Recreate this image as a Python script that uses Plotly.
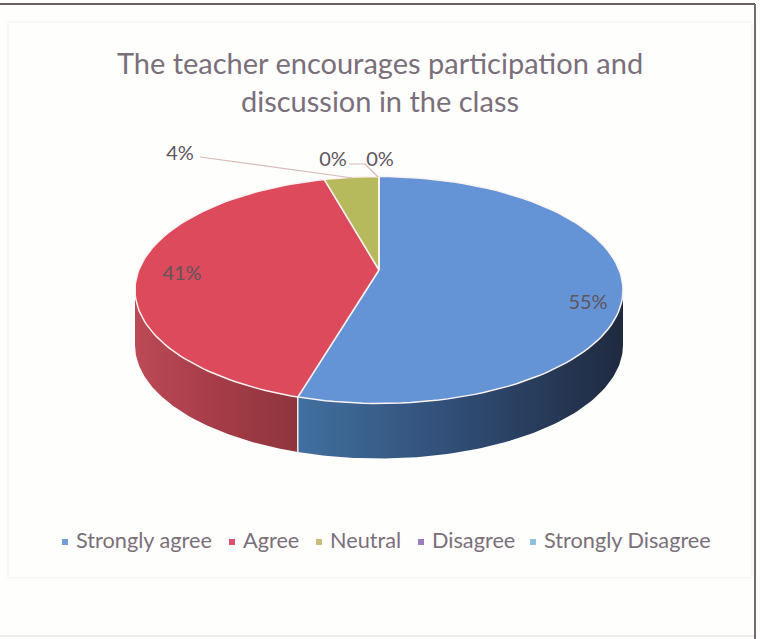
"""3D-look pie: teacher encourages participation (survey result)."""

import numpy as np
import plotly.graph_objects as go

# ─── Data ─────────────────────────────────────────────────────────────────────

categories = ["Strongly agree", "Agree", "Neutral", "Disagree", "Strongly Disagree"]
# they round to the printed 55 / 41 / 4 / 0 / 0
shares = [55.4, 41.0, 3.6, 0, 0]
share_labels = ["55%", "41%", "4%", "0%", "0%"]

top_colors = ["#6494d6", "#dc4a5c", "#b7ba5c", "#8064a2", "#4bacc6"]
legend_colors = ["#6f9fd8", "#e0506a", "#c9bd78", "#9a7cc0", "#8fc0de"]
side_gradients = {
    0: ["#41709f", "#304c74", "#1f2a40"],
    1: ["#bb4a56", "#a53c48", "#8f353d"],
}

# ─── Layout constants (pixels, the axes map 1:1 to the page) ──────────────────

W, H = 760, 639
CX, CY, RX, RY = 379, 290, 244, 113.5
APEX_Y = 270
DEPTH = 55
TEXT = "#7a6f7a"


def arc(start, end, drop=0.0):
    """Points on the rim between two angles, clockwise from 12 o'clock."""
    t = np.radians(np.linspace(start, end, 90))
    return CX + RX * np.sin(t), CY - RY * np.cos(t) + drop


fig = go.Figure()

# turn the shares into rim angles
edges = np.cumsum([0] + shares) * 360 / sum(shares)

# ─── Side wall (only the part of the rim facing the viewer) ───────────────────

for i, stops in side_gradients.items():
    start, end = max(edges[i], 90), min(edges[i + 1], 270)
    x_top, y_top = arc(start, end)
    x_bot, y_bot = arc(end, start, DEPTH)
    fig.add_trace(go.Scatter(
        x=np.r_[x_top, x_bot, x_top[0]], y=np.r_[y_top, y_bot, y_top[0]],
        mode="lines", line=dict(width=0), fill="toself",
        fillgradient=dict(
            type="horizontal",
            colorscale=[[k / (len(stops) - 1), c] for k, c in enumerate(stops)],
        ),
        hoverinfo="skip",
    ))

# seam between the two visible walls
seam_x, seam_y = arc(edges[1], edges[1])
fig.add_trace(go.Scatter(
    x=[seam_x[0], seam_x[0]], y=[seam_y[0], seam_y[0] + DEPTH],
    mode="lines", line=dict(color="#f4ecec", width=1.5), hoverinfo="skip",
))

# ─── Top face ─────────────────────────────────────────────────────────────────

for i, name in enumerate(categories):
    x_rim, y_rim = arc(edges[i], edges[i + 1])
    fig.add_trace(go.Scatter(
        x=np.r_[CX, x_rim, CX], y=np.r_[APEX_Y, y_rim, APEX_Y],
        mode="lines", line=dict(color="#fbf3f1", width=1.5),
        fill="toself", fillcolor=top_colors[i], name=name, hoverinfo="name",
    ))

# ─── Labels and leader lines ──────────────────────────────────────────────────

label_x = [588, 182, 180, 333, 380]
label_y = [304, 275, 155, 161, 161]
fig.add_trace(go.Scatter(
    x=label_x, y=label_y, mode="text", text=share_labels,
    textfont=dict(family="Lato", size=20, color="#5f555d"), hoverinfo="skip",
))

leader_x = [200, 353, None, 349, 365, 378]
leader_y = [157, 178, None, 164, 164, 177]
fig.add_trace(go.Scatter(
    x=leader_x, y=leader_y, mode="lines",
    line=dict(color="#d9b8b8", width=1.2), hoverinfo="skip",
))

# ─── Legend, laid out by hand as in the original ──────────────────────────────

legend_x = [65, 232, 319, 421, 533]
fig.add_trace(go.Scatter(
    x=legend_x, y=[542] * 5, mode="markers",
    marker=dict(symbol="square", size=6, color=legend_colors), hoverinfo="skip",
))
fig.add_trace(go.Scatter(
    x=[x + 11 for x in legend_x], y=[543] * 5, mode="text", text=categories,
    textposition="middle right",
    textfont=dict(family="Lato", size=21.7, color=TEXT), hoverinfo="skip",
))

# ─── Layout ───────────────────────────────────────────────────────────────────

fig.update_layout(
    width=W, height=H,
    margin=dict(l=0, r=0, t=0, b=0),
    showlegend=False,
    paper_bgcolor="#fefefd", plot_bgcolor="#fefefd",
    xaxis=dict(range=[0, W], visible=False, fixedrange=True),
    yaxis=dict(range=[H, 0], visible=False, fixedrange=True),
    title=dict(
        text="The teacher encourages participation and<br>discussion in the class",
        x=380 / W, xanchor="center", y=1 - 74 / H, yanchor="middle",
        font=dict(family="Lato", size=29, color=TEXT),
    ),
    shapes=[
        # faint chart-area border
        dict(type="rect", x0=8, y0=22, x1=752, y1=578,
             line=dict(color="#f2f1f0", width=1)),
        # scanned frame: dark top and right, almost nothing below
        dict(type="line", x0=0, y0=636, x1=755, y1=636,
             line=dict(color="#e8e6e6", width=1.5)),
        dict(type="line", x0=0, y0=4, x1=755, y1=4,
             line=dict(color="#666064", width=2)),
        dict(type="line", x0=755, y0=4, x1=755, y1=639,
             line=dict(color="#756a70", width=2)),
    ],
)

# the page's default body margin would push the plot 8px off
fig.write_html("out.html", config=dict(displayModeBar=False),
               post_script="document.body.style.margin = '0';")
